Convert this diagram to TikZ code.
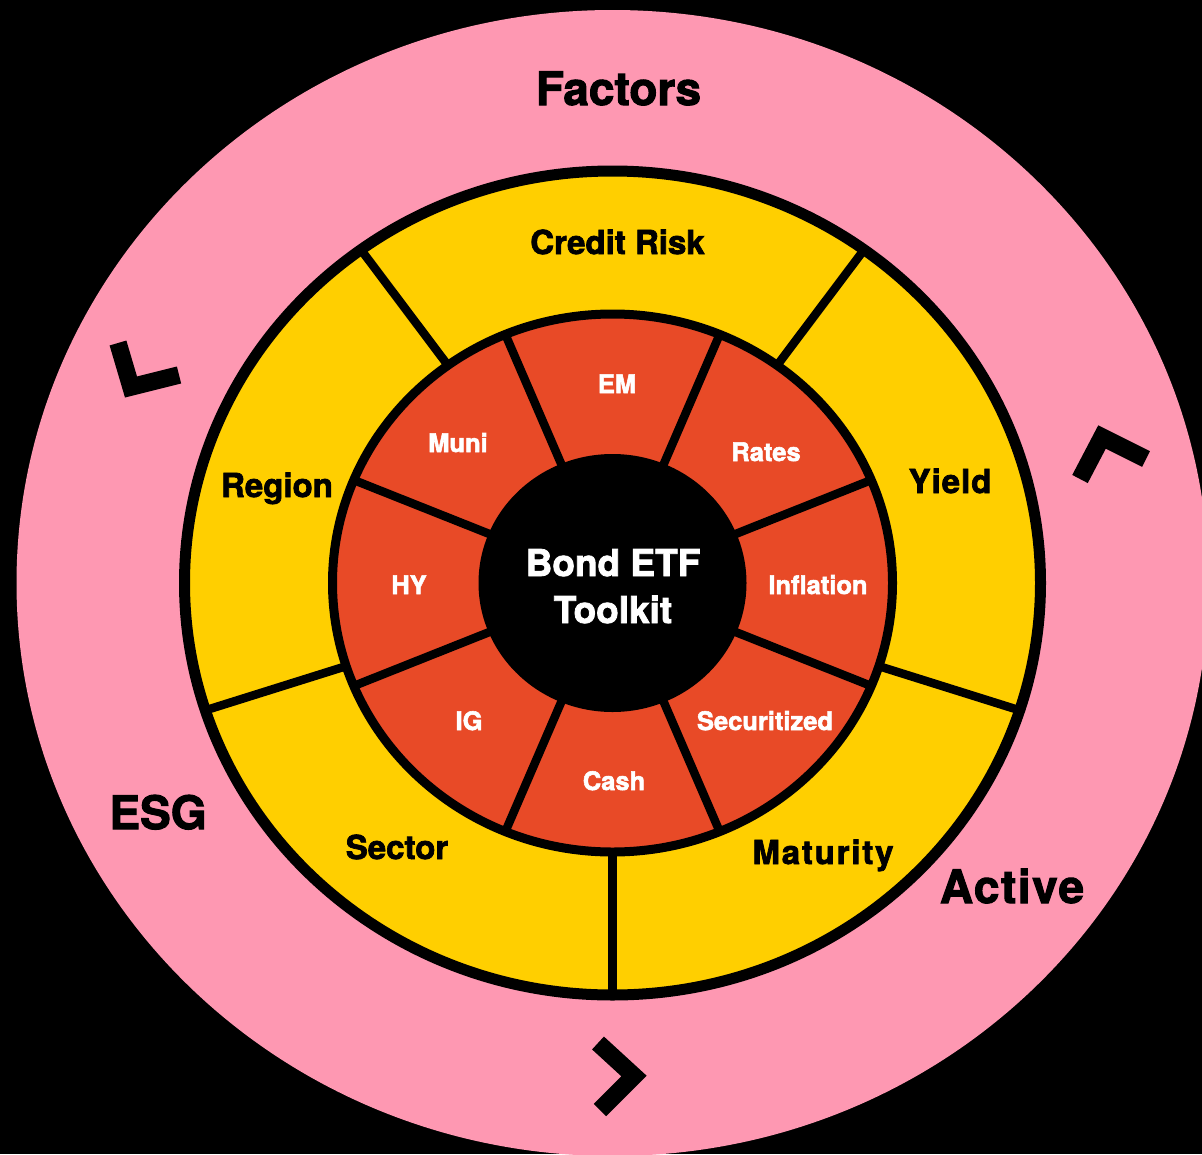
\documentclass[tikz,border=0pt]{standalone}
\usepackage{fontspec}
\setmainfont{TeX Gyre Heros}[BoldFeatures={FakeBold=2.2}]
\definecolor{pinkring}{HTML}{FE98B2}
\definecolor{yellowring}{HTML}{FFCF00}
\definecolor{redring}{HTML}{E84A27}
\begin{document}
\begin{tikzpicture}[x=1pt,y=-1pt,
  outerlbl/.style={font=\fontsize{46}{46}\selectfont\bfseries, text=black, inner sep=0pt, anchor=base},
  midlbl/.style={font=\fontsize{33}{33}\selectfont\bfseries, text=black, inner sep=0pt, anchor=base},
  innerlbl/.style={font=\fontsize{25.5}{25.5}\selectfont\bfseries, text=white, inner sep=0pt, anchor=base},
  centerlbl/.style={font=\fontsize{37}{37}\selectfont\bfseries, text=white, inner sep=0pt, anchor=base},
  chevron/.style={line width=17.5pt, line join=miter, line cap=butt, draw=black},
  divider/.style={line width=8.5pt, draw=black},
]
\useasboundingbox (0,0) rectangle (1202,1154);
\fill[black] (0,0) rectangle (1202,1154);
\coordinate (C) at (612.5,583);
% rings
\fill[pinkring] (C) ellipse [x radius=596, y radius=573];
\fill[yellowring] (C) ellipse [x radius=428, y radius=412];
\fill[redring] (C) ellipse [x radius=280, y radius=269];
\fill[black] (C) ellipse [x radius=134, y radius=129];
% dividers of the yellow ring
\foreach \a in {54,126,198,270,342}{
  \draw[divider] ({612.5+280*cos(\a)},{583-269*sin(\a)}) -- ({612.5+428*cos(\a)},{583-412*sin(\a)});
}
% dividers of the red ring
\foreach \a in {22.5,67.5,112.5,157.5,202.5,247.5,292.5,337.5}{
  \draw[divider] ({612.5+130*cos(\a)},{583-125*sin(\a)}) -- ({612.5+280*cos(\a)},{583-269*sin(\a)});
}
% ring borders
\draw[line width=11pt] (C) ellipse [x radius=428, y radius=412];
\draw[line width=9pt] (C) ellipse [x radius=280, y radius=269];
% chevrons
\draw[chevron] (118,343) -- (131,387) -- (179,375);
\draw[chevron] (1080,479) -- (1102,437) -- (1146,459);
\draw[chevron] (598,1043) -- (634,1076) -- (600,1110);
% outer labels
\node[outerlbl] (factors) at (618.5,105) {Factors};
\node[outerlbl] (esg) at (158,829) {ESG};
\node[outerlbl] (active) at (1012,903) {\addfontfeature{LetterSpace=3.3}Active};
% yellow ring labels
\node[midlbl] (credit) at (617.5,254) {Credit Risk};
\node[midlbl] (region) at (277,497) {Region};
\node[midlbl] (yield) at (950,493) {\addfontfeature{LetterSpace=3}Yield};
\node[midlbl] (maturity) at (823,864) {\addfontfeature{LetterSpace=5.5}Maturity};
\node[midlbl] (sector) at (397,859) {Sector};
% red ring labels
\node[innerlbl] (em) at (617,393) {EM};
\node[innerlbl] (rates) at (766,461) {Rates};
\node[innerlbl] (inflation) at (818,594) {Inflation};
\node[innerlbl] (securitized) at (765,730) {Securitized};
\node[innerlbl] (cash) at (614,790) {Cash};
\node[innerlbl] (ig) at (469,730) {IG};
\node[innerlbl] (hy) at (409,594) {HY};
\node[innerlbl] (muni) at (458,452) {Muni};
% centre
\node[centerlbl] (bond) at (613,576) {Bond ETF};
\node[centerlbl] (toolkit) at (613,623) {Toolkit};
\end{tikzpicture}
\end{document}
